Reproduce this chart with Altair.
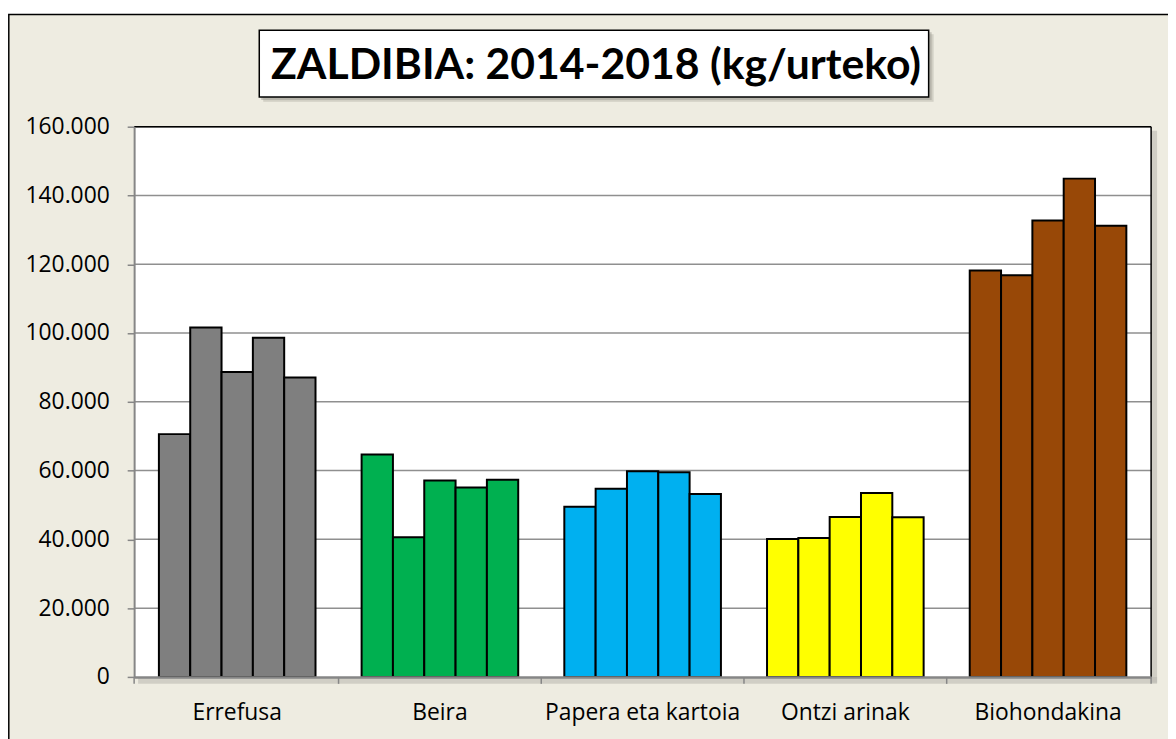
import altair as alt
import pandas as pd

categories = ["Errefusa", "Beira", "Papera eta kartoia", "Ontzi arinak", "Biohondakina"]
years = ["2014", "2015", "2016", "2017", "2018"]
errefusa = [70600, 101600, 88700, 98600, 87100]
beira = [64700, 40600, 57100, 55100, 57300]
papera = [49500, 54700, 59800, 59500, 53200]
ontzi = [40100, 40400, 46500, 53500, 46400]
biohondakina = [118200, 116800, 132700, 144900, 131200]
colors = ["#7F7F7F", "#00B050", "#00B0F0", "#FFFF00", "#984807"]
y_ticks = [0, 20000, 40000, 60000, 80000, 100000, 120000, 140000, 160000]
title_text = "ZALDIBIA: 2014-2018 (kg/urteko)"

series = [errefusa, beira, papera, ontzi, biohondakina]
rows = []
for cat, vals in zip(categories, series):
    for yr, v in zip(years, vals):
        rows.append({"category": cat, "year": yr, "value": v})
df = pd.DataFrame(rows)
grid_df = pd.DataFrame({"value": y_ticks[1:]})
cat_df = pd.DataFrame({"category": categories[1:]})
one = pd.DataFrame({"a": [0]})

W, H = 1024, 554
PI, PO = 0.2274, 0.1222
STEP = W / (len(categories) - PI + 2 * PO)
HALF_GAP = PI * STEP / 2

y_scale = alt.Scale(domain=[0, 160000], nice=False)
x_scale = alt.Scale(domain=categories, paddingInner=PI, paddingOuter=PO)

y_axis = alt.Axis(
    values=y_ticks, grid=False, labelFont="Open Sans", labelFontSize=23,
    labelColor="#000000", labelPadding=18, tickSize=7, tickColor="#868686",
    tickWidth=1.5, domainColor="#868686", domainWidth=2, zindex=1,
    labelExpr="replace(format(datum.value, ','), ',', '.')",
)
x_axis = alt.Axis(
    labelAngle=0, labelFont="Open Sans", labelFontSize=23, labelColor="#000000",
    labelPadding=25, labelLimit=400, ticks=False,
    domainColor="#868686", domainWidth=2.5, zindex=1,
)

def deco_rect(x, x2, y, y2, **kw):
    return alt.Chart(one).mark_rect(**kw).encode(
        x=alt.value(x), x2=alt.value(x2), y=alt.value(y), y2=alt.value(y2)
    )

frame = deco_rect(-126.2, W + 60, -113, H + 120, fill="#EEECE1", stroke="#000000", strokeWidth=1.5)
plot_shadow_r = deco_rect(W, W + 6, 4, H + 6, fill="#bdbbb2", opacity=0.6)
plot_shadow_b = deco_rect(4, W + 6, H, H + 7, fill="#bdbbb2", opacity=0.6)
plot_bg = deco_rect(0, W, 0, H, fill="#FFFFFF")
title_shadow1 = deco_rect(130, 805, -93, -25, fill="#b5b3aa", opacity=0.5)
title_shadow2 = deco_rect(128, 803, -95, -27, fill="#9c9a92", opacity=0.5)
title_box = deco_rect(126, 800, -97, -30, fill="#FFFFFF", stroke="#000000", strokeWidth=1.5)
title = alt.Chart(one).mark_text(
    font="Lato", fontSize=43, fontWeight="bold", color="#000000",
    align="center", baseline="alphabetic"
).encode(x=alt.value(465), y=alt.value(-48), text=alt.value(title_text))

grid = alt.Chart(grid_df).mark_rule(color="#8f8f8f", strokeWidth=1.5).encode(
    y=alt.Y("value:Q", scale=y_scale, axis=y_axis, title=None),
    x=alt.value(0), x2=alt.value(W),
)

bars = alt.Chart(df).mark_bar(stroke="#000000", strokeWidth=2, opacity=1).encode(
    x=alt.X("category:N", sort=categories, title=None, scale=x_scale, axis=x_axis),
    xOffset=alt.XOffset("year:N", sort=years, scale=alt.Scale(paddingInner=0, paddingOuter=0)),
    y=alt.Y("value:Q", scale=y_scale, title=None, axis=y_axis),
    color=alt.Color("category:N", sort=categories,
                    scale=alt.Scale(domain=categories, range=colors), legend=None),
)

x_ticks = alt.Chart(cat_df).mark_rule(color="#868686", strokeWidth=1.5).encode(
    x=alt.X("category:N", sort=categories, scale=x_scale, axis=x_axis, title=None,
            bandPosition=0),
    xOffset=alt.value(-HALF_GAP),
    y=alt.value(H), y2=alt.value(H + 7),
)
x_tick_end = alt.Chart(one).mark_rule(color="#868686", strokeWidth=1.5).encode(
    x=alt.value(W), y=alt.value(H), y2=alt.value(H + 7)
)
x_tick_start = alt.Chart(one).mark_rule(color="#868686", strokeWidth=1.5).encode(
    x=alt.value(0), y=alt.value(H), y2=alt.value(H + 7)
)

top_border = alt.Chart(one).mark_rule(color="#000000", strokeWidth=1.5).encode(
    x=alt.value(0), x2=alt.value(W), y=alt.value(0)
)
right_border = alt.Chart(one).mark_rule(color="#000000", strokeWidth=1.5).encode(
    x=alt.value(W), y=alt.value(0), y2=alt.value(H)
)

chart = alt.layer(
    frame, plot_shadow_r, plot_shadow_b, plot_bg,
    title_shadow1, title_shadow2, title_box, title,
    grid, bars, x_ticks, x_tick_start, x_tick_end, top_border, right_border,
).properties(
    width=W, height=H,
    autosize=alt.AutoSizeParams(type="none"),
    padding={"left": 127, "top": 117, "right": 17, "bottom": 60},
).configure(background="#FFFFFF").configure_view(stroke="transparent")

chart.save("out.html", embed_options={"renderer": "svg", "actions": False})
